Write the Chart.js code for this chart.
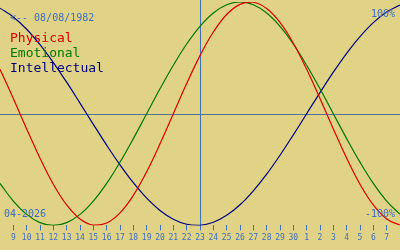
<!DOCTYPE html>
<html>
<head>
<meta charset="utf-8">
<script src="https://cdn.jsdelivr.net/npm/chart.js@4.4.1/dist/chart.umd.min.js"></script>
<style>
  html, body { margin: 0; padding: 0; background: #e0d385; }
  #wrap { width: 400px; height: 250px; position: relative; }
</style>
</head>
<body>
<div id="wrap"><canvas id="bioChart"></canvas></div>
<script>
// ========== DADOS ==========
const dias = ['8', '9', '10', '11', '12', '13', '14', '15', '16', '17', '18', '19', '20', '21', '22',
    '23', '24', '25', '26', '27', '28', '29', '30', '1', '2', '3', '4', '5', '6', '7', '8'];

const fisico = [0.398, 0.136, -0.136, -0.398, -0.631, -0.817, -0.942, -0.998, -0.979, -0.888,
    -0.731, -0.520, -0.270, 0, 0.270, 0.520, 0.731, 0.888, 0.979, 0.998,
    0.942, 0.817, 0.631, 0.398, 0.136, -0.136, -0.398, -0.631, -0.817, -0.942, -0.998];

const emocional = [-0.624, -0.782, -0.901, -0.975, -1, -0.975, -0.901, -0.782, -0.624, -0.434,
    -0.223, 0, 0.223, 0.434, 0.624, 0.782, 0.901, 0.975, 1, 0.975,
    0.901, 0.782, 0.624, 0.434, 0.223, 0, -0.223, -0.434, -0.624, -0.782, -0.901];

const intelectual = [0.945, 0.866, 0.756, 0.618, 0.458, 0.282, 0.095, -0.095, -0.282, -0.458,
    -0.618, -0.756, -0.866, -0.945, -0.990, -0.999, -0.972, -0.910, -0.815, -0.690,
    -0.541, -0.372, -0.189, 0, 0.189, 0.372, 0.541, 0.690, 0.815, 0.910, 0.972];

const nomesSeries = ['Physical', 'Emotional', 'Intellectual'];
const hojeIndice = 15;
const dataNascimento = '<-- 08/08/1982';
const mesAno = '04-2026';

const AZUL = '#3f6fc4';
const cores = ['#dd0000', '#007800', '#000080'];
const FONTE = '"DejaVu Sans Mono", monospace';

// ========== PLUGIN DE TEXTOS E LINHAS ==========
const extrasPlugin = {
    id: 'extras',
    beforeDatasetsDraw(chart) {
        const ctx = chart.ctx;
        const area = chart.chartArea;
        const x = chart.scales.x;
        const y = chart.scales.y;
        ctx.save();
        // linha do zero
        const y0 = Math.round(y.getPixelForValue(0)) + 0.5;
        ctx.strokeStyle = '#52709a';
        ctx.lineWidth = 1;
        ctx.beginPath();
        ctx.moveTo(area.left, y0);
        ctx.lineTo(area.right, y0);
        ctx.stroke();
        // linha de hoje
        const xh = Math.round(x.getPixelForValue(hojeIndice)) + 0.5;
        ctx.strokeStyle = AZUL;
        ctx.beginPath();
        ctx.moveTo(xh, 0);
        ctx.lineTo(xh, area.bottom);
        ctx.stroke();
        ctx.restore();
    },
    afterDraw(chart) {
        const ctx = chart.ctx;
        ctx.save();
        ctx.textBaseline = 'alphabetic';
        ctx.font = '10px ' + FONTE;
        ctx.fillStyle = AZUL;
        ctx.textAlign = 'left';
        ctx.fillText(dataNascimento, 10, 21);
        ctx.fillText(mesAno, 4, 217);
        ctx.textAlign = 'right';
        ctx.fillText('100%', 395, 17);
        ctx.fillText('-100%', 395, 217);

        ctx.textAlign = 'left';
        ctx.font = '13px ' + FONTE;
        nomesSeries.forEach((nome, i) => {
            ctx.fillStyle = cores[i];
            ctx.fillText(nome, 10, 42 + i * 15);
        });
        ctx.restore();
    }
};

// ========== GRÁFICO ==========
let bioChart = null;

function inicializarGrafico() {
    const el = document.getElementById('bioChart');
    const series = [fisico, emocional, intelectual];

    bioChart = new Chart(el.getContext('2d'), {
        type: 'line',
        data: {
            labels: dias,
            datasets: series.map((dados, i) => ({
                label: nomesSeries[i],
                data: dados,
                borderColor: cores[i],
                borderWidth: 1.2,
                pointRadius: 0,
                pointHoverRadius: 0,
                tension: 0.4,
                fill: false
            }))
        },
        options: {
            responsive: true,
            maintainAspectRatio: false,
            animation: false,
            layout: { autoPadding: false, padding: { top: 2, left: 0, right: 0, bottom: 4 } },
            plugins: {
                legend: { display: false },
                tooltip: { enabled: false }
            },
            scales: {
                x: {
                    offset: false,
                    border: { display: false },
                    afterFit: function(scale) {
                        scale.paddingLeft = 0;
                        scale.paddingRight = 0;
                    },
                    grid: {
                        drawOnChartArea: false,
                        drawTicks: true,
                        tickLength: 5,
                        color: (c) => (c.index === 0 || c.index === dias.length - 1) ? 'rgba(0,0,0,0)' : AZUL
                    },
                    ticks: {
                        autoSkip: false,
                        maxRotation: 0,
                        minRotation: 0,
                        padding: 3,
                        color: AZUL,
                        font: { size: 8, family: FONTE },
                        callback: function(value, index) {
                            if (index === 0 || index === dias.length - 1) return '';
                            return dias[index];
                        }
                    }
                },
                y: {
                    display: false,
                    min: -1,
                    max: 1
                }
            }
        },
        plugins: [extrasPlugin]
    });
}

inicializarGrafico();
</script>
</body>
</html>
